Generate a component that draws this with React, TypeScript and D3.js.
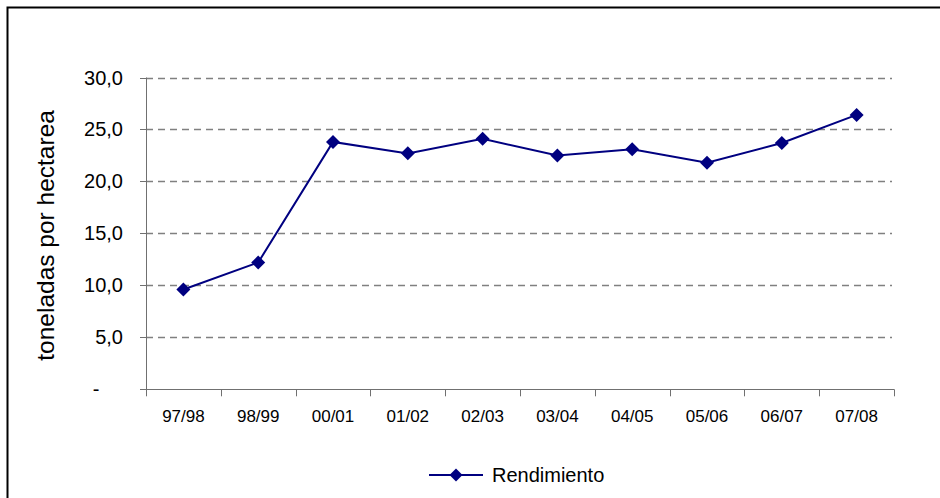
import React from "react";
import * as d3 from "d3";

const categories = ["97/98", "98/99", "00/01", "01/02", "02/03", "03/04", "04/05", "05/06", "06/07", "07/08"];
const rendimiento = [9.6, 12.2, 23.8, 22.7, 24.1, 22.5, 23.1, 21.8, 23.7, 26.4];
const yTicks = [0, 5, 10, 15, 20, 25, 30];
const yTickLabels = ["-", "5,0", "10,0", "15,0", "20,0", "25,0", "30,0"];
const seriesName = "Rendimiento";
const yTitle = "toneladas por hectarea";

export default function App() {
  const W = 940, H = 498;
  const left = 146, right = 894, top = 77.5, bottom = 389.3;
  const x = d3.scaleBand<string>().domain(categories).range([left, right]).padding(0);
  const y = d3.scaleLinear().domain([0, 30]).range([bottom, top]);
  const line = d3.line<number>()
    .x((_, i) => (x(categories[i]) as number) + x.bandwidth() / 2)
    .y((d) => y(d));
  const font = "Arial, 'Liberation Sans', sans-serif";
  const diamond = (cx: number, cy: number, r: number) =>
    `M${cx},${cy - r}L${cx + r},${cy}L${cx},${cy + r}L${cx - r},${cy}Z`;
  const navy = "#000080";
  const axisColor = "#707070";
  const ticksX = [...categories.map((c) => x(c) as number), right];
  return (
    <svg width={W} height={H} style={{ position: "absolute", left: 0, top: 0 }} fontFamily={font}>
      <rect x={0} y={0} width={W} height={H} fill="#fff" />
      <rect x={7.5} y={7.5} width={W + 20} height={H + 20} fill="none" stroke="#000" strokeWidth={2} />
      {/* gridlines */}
      {yTicks.filter((t) => t > 0).map((t) => (
        <line key={t} x1={left} x2={right - 2} y1={Math.round(y(t)) + 0.5} y2={Math.round(y(t)) + 0.5}
          stroke="#808080" strokeWidth={1.3} strokeDasharray="7,5" />
      ))}
      {/* y axis */}
      <line x1={left + 0.5} x2={left + 0.5} y1={y(30)} y2={bottom} stroke={axisColor} strokeWidth={1} />
      {yTicks.map((t, i) => (
        <g key={t}>
          <line x1={left - 6} x2={left} y1={Math.round(y(t)) + 0.5} y2={Math.round(y(t)) + 0.5} stroke={axisColor} />
          <text x={t === 0 ? 99.5 : 123} y={y(t)} dy="0.35em" textAnchor="end" fontSize={20} fill="#000">{yTickLabels[i]}</text>
        </g>
      ))}
      {/* x axis */}
      <line x1={left} x2={right} y1={Math.round(bottom) + 0.5} y2={Math.round(bottom) + 0.5} stroke={axisColor} />
      {ticksX.map((tx, i) => (
        <line key={i} x1={Math.round(tx) + 0.5} x2={Math.round(tx) + 0.5} y1={bottom} y2={bottom + 7} stroke={axisColor} />
      ))}
      {categories.map((c) => (
        <text key={c} x={(x(c) as number) + x.bandwidth() / 2} y={422} textAnchor="middle" fontSize={17} fill="#000">{c}</text>
      ))}
      {/* y title */}
      <text transform={`translate(54,${(top + bottom) / 2 + 2}) rotate(-90)`} textAnchor="middle" fontSize={24.5} fill="#000">{yTitle}</text>
      {/* series */}
      <path d={line(rendimiento) || ""} fill="none" stroke={navy} strokeWidth={2} />
      {rendimiento.map((v, i) => (
        <path key={i} d={diamond((x(categories[i]) as number) + x.bandwidth() / 2, y(v), 7)} fill={navy} />
      ))}
      {/* legend */}
      <line x1={429} x2={483} y1={475} y2={475} stroke={navy} strokeWidth={2} />
      <path d={diamond(456, 475, 6.5)} fill={navy} />
      <text x={492} y={482} fontSize={20} fill="#000">{seriesName}</text>
    </svg>
  );
}
